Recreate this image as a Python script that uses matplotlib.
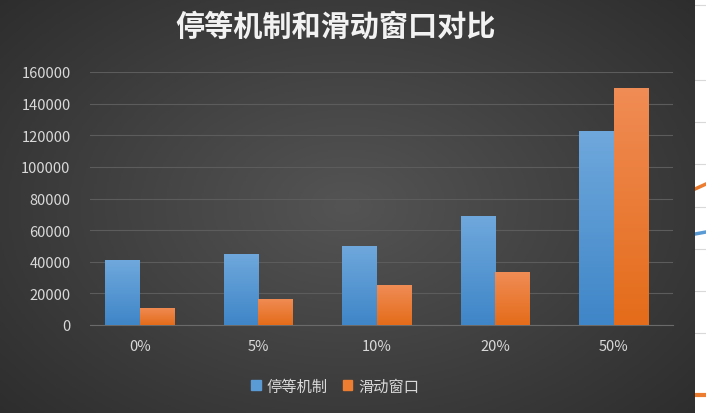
import numpy as np
import matplotlib.pyplot as plt
from matplotlib.colors import LinearSegmentedColormap

plt.rcParams['font.family'] = ['Noto Sans CJK SC', 'DejaVu Sans']

categories = ['0%', '5%', '10%', '20%', '50%']
stop_wait = [41000, 45000, 50000, 69000, 123000]
sliding = [11000, 16500, 25000, 33500, 150000]

fig = plt.figure(figsize=(7.06, 4.14), dpi=100)

# fondo con degradado radial
bg = fig.add_axes([0, 0, 695 / 706, 1])
yy, xx = np.mgrid[-1:1:200j, -1:1:300j]
r = np.sqrt(xx ** 2 + (yy * 0.9) ** 2)
bg.imshow(np.clip(r, 0, 1.4), cmap=LinearSegmentedColormap.from_list('g', ['#545454', '#2c2c2c']),
          aspect='auto', extent=[0, 1, 0, 1], vmin=0, vmax=1.4)
bg.axis('off')

# tira blanca a la derecha (otro gráfico recortado)
side = fig.add_axes([695 / 706, 0, 11 / 706, 1])
side.set_xlim(0, 1)
side.set_ylim(414, 0)
for y in [6, 81, 123, 165, 208, 250, 292, 334]:
    side.plot([0, 1], [y, y], color='#d9d9d9', lw=0.8)
side.plot([0, 1], [190, 185], color='#ed7d31', lw=2.5)
side.plot([0, 1], [235, 233], color='#5b9bd5', lw=2.5)
side.plot([0, 1], [396, 396], color='#ed7d31', lw=3)
side.axis('off')
side.add_patch(plt.Rectangle((0, 0), 1, 414, color='white', zorder=0))

ax = fig.add_axes([90 / 706, 88 / 414, 583 / 706, 253 / 414])
ax.patch.set_alpha(0)
x = np.arange(len(categories))
w = 0.29


def grad_bars(xs, vals, c_top, c_bot):
    bars = ax.bar(xs, vals, w, color='none', zorder=3)
    cmap = LinearSegmentedColormap.from_list('b', [c_bot, c_top])
    for b in bars:
        im = ax.imshow(np.linspace(0, 1, 100).reshape(-1, 1), cmap=cmap, origin='lower', aspect='auto',
                       extent=[b.get_x(), b.get_x() + b.get_width(), 0, b.get_height()], zorder=3)
        im.set_clip_path(b)


grad_bars(x - w / 2, stop_wait, '#6fa8dc', '#3f86c8')
grad_bars(x + w / 2, sliding, '#f08c55', '#e46c1a')
ax.set_xlim(-0.42, 4.5)
ax.set_ylim(0, 160000)

ax.set_yticks(np.arange(0, 160001, 20000))
ax.grid(axis='y', color='#5c5c5c', lw=0.8, zorder=0)
ax.set_xticks(x)
ax.set_xticklabels(categories)
ax.tick_params(colors='#d9d9d9', labelsize=10.5, length=0, pad=10)
ax.tick_params(axis='y', pad=14)
for s in ['top', 'right', 'left']:
    ax.spines[s].set_visible(False)
ax.spines['bottom'].set_color('#6a6a6a')

fig.text(0.475, 0.935, '停等机制和滑动窗口对比', color='#f2f2f2', fontsize=21, fontweight='bold',
         ha='center', va='center')

h1 = plt.Rectangle((0, 0), 1, 1, color='#5b9bd5')
h2 = plt.Rectangle((0, 0), 1, 1, color='#ed7d31')
fig.legend([h1, h2], ['停等机制', '滑动窗口'], loc='center', bbox_to_anchor=(0.475, 0.065), ncol=2,
           frameon=False, labelcolor='#d9d9d9', fontsize=11, handlelength=0.6, handleheight=0.6,
           columnspacing=1.0, handletextpad=0.4)

fig.savefig('out.png', dpi=100)
